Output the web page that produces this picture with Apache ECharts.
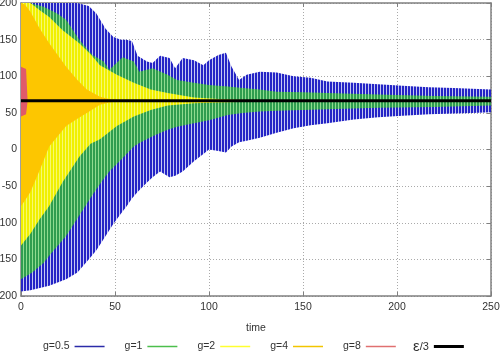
<!DOCTYPE html>
<html>
<head>
<meta charset="UTF-8">
<title>g runs</title>
<script src="https://cdn.jsdelivr.net/npm/echarts@6/dist/echarts.min.js"></script>
<style>
  html, body { margin: 0; padding: 0; background: #fff; }
  #main { width: 501px; height: 359px; }
</style>
</head>
<body>
<div id="main"></div>
<script>
// envelopes: time, upper bound, lower bound of each run
var tG05  = [0, 5, 15, 24, 30, 36, 40, 45, 49, 53, 56, 59, 62, 67, 70, 74, 79, 82, 86, 92, 97, 100, 105, 109, 112, 116, 120, 127, 136, 145, 154, 163, 177, 190, 203, 217, 230, 240, 250];
var hiG05 = [200, 200, 200, 200, 200, 196, 186, 165, 154, 150, 150, 148, 128, 120, 118, 128, 125, 111, 125, 122, 115, 122, 129, 132, 113, 95, 102, 106, 105, 100, 98, 93, 91, 89, 87, 85, 84, 83, 82];
var loG05 = [-194, -192, -186, -177, -168, -150, -138, -118, -102, -88, -78, -67, -58, -45, -38, -30, -38, -36, -30, -16, -6, 0, -2, -4, 4, 10, 12, 16, 23, 29, 33, 36, 41, 44, 46, 48, 49, 50, 51];

var tG1  = [0, 6, 12, 15, 19, 24, 31, 38, 44, 47, 54, 60, 63, 70, 78, 83, 92, 100, 110, 118, 127, 136, 150, 163, 190, 220, 250];
var hiG1 = [200, 199, 195, 191, 186, 177, 150, 129, 120, 109, 126, 120, 106, 111, 102, 95, 91, 88, 86, 84, 82, 79, 78, 77, 75, 73, 72];
var loG1 = [-177, -168, -155, -145, -133, -118, -90, -62, -40, -30, -12, 4, 9, 18, 27, 31, 36, 40, 47, 50, 52, 53, 54, 55, 57, 58, 60];

var tG2  = [0, 5, 10, 15, 22, 31, 37, 42, 51, 60, 69, 78, 92, 105, 115, 120];
var hiG2 = [200, 200, 190, 181, 163, 145, 130, 115, 102, 91, 82, 77, 71, 69, 68, 67.5];
var loG2 = [-131, -115, -95, -77, -45, -10, 8, 14, 32, 45, 54, 60, 63, 64, 65, 66];

var tG4  = [0, 2, 5, 10, 15, 24, 30, 35, 42, 47, 52];
var hiG4 = [200, 198, 188, 165, 145, 113, 95, 82, 72, 69, 67.5];
var loG4 = [-77, -70, -58, -28, 4, 32, 42, 50, 61, 64, 66];

var tG8  = [0, 2.7, 3.5];
var hiG8 = [113, 110, 67];
var loG8 = [45, 48, 66];

var epsT = [0, 250];
var epsV = [66.7, 66.7];

var myChart = echarts.init(document.getElementById('main'));

// thin vertical stripes, the look of the fast oscillation
function stripes(c1, c2) {
    var cv = document.createElement('canvas');
    cv.width = 3;
    cv.height = 1;
    var ctx = cv.getContext('2d');
    ctx.fillStyle = c1;
    ctx.fillRect(0, 0, 2, 1);
    ctx.fillStyle = c2;
    ctx.fillRect(2, 0, 1, 1);
    return { image: cv, repeat: 'repeat' };
}

function band(name, t, hi, lo, color, fill, z) {
    return {
        name: name,
        type: 'custom',
        coordinateSystem: 'cartesian2d',
        silent: true,
        clip: true,
        z: z,
        itemStyle: { color: color },
        data: [[t[0], hi[0]]],
        renderItem: function (params, api) {
            var pts = [];
            for (var i = 0; i < t.length; i++) pts.push(api.coord([t[i], hi[i]]));
            for (var j = t.length - 1; j >= 0; j--) pts.push(api.coord([t[j], lo[j]]));
            return { type: 'polygon', shape: { points: pts }, style: { fill: fill } };
        }
    };
}

var txt = { color: '#333', fontSize: 10.5, fontFamily: 'Liberation Sans' };
var grey = '#808080';
var dots = { show: true, lineStyle: { color: '#aaa', type: [1, 2], width: 1 } };

myChart.setOption({
    animation: false,
    textStyle: { fontFamily: 'Liberation Sans' },
    grid: { left: 21, right: 10, top: 3, bottom: 63, containLabel: false, outerBoundsMode: 'none' },
    legend: [{
        left: 43,
        top: 341,
        padding: 0,
        align: 'right',
        icon: 'rect',
        itemWidth: 30,
        itemHeight: 1.5,
        itemGap: 20,
        textStyle: txt,
        data: ['g=0.5', 'g=1', 'g=2', 'g=4', 'g=8']
    }, {
        left: 413,
        top: 339,
        padding: 0,
        align: 'right',
        icon: 'rect',
        itemWidth: 30,
        itemHeight: 3,
        textStyle: {
            color: '#333', fontSize: 10.5,
            rich: { e: { fontSize: 15, color: '#333' }, n: { fontSize: 11, color: '#333' } }
        },
        formatter: function () { return '{e|ε}{n|/3}'; },
        data: ['ε/3']
    }],
    xAxis: [{
        type: 'value', min: 0, max: 250, interval: 50,
        name: 'time', nameLocation: 'middle', nameGap: 27, nameTextStyle: txt,
        axisLine: { onZero: false, lineStyle: { color: grey, width: 1.5 } },
        axisTick: { inside: true, length: 4, lineStyle: { color: grey } },
        axisLabel: Object.assign({ margin: 6 }, txt),
        splitLine: dots
    }, {
        type: 'value', min: 0, max: 250, interval: 50, position: 'top',
        axisLine: { show: true, onZero: false, lineStyle: { color: grey, width: 1.5 } },
        axisTick: { inside: true, length: 4, lineStyle: { color: grey } },
        axisLabel: { show: false }, splitLine: { show: false }
    }],
    yAxis: [{
        type: 'value', min: -200, max: 200, interval: 50,
        axisLine: { show: true, onZero: false, lineStyle: { color: grey, width: 1.5 } },
        axisTick: { show: true, inside: true, length: 4, lineStyle: { color: grey } },
        axisLabel: Object.assign({ margin: 4 }, txt),
        splitLine: dots
    }, {
        type: 'value', min: -200, max: 200, interval: 50, position: 'right',
        axisLine: { show: true, onZero: false, lineStyle: { color: grey, width: 1.5 } },
        axisTick: { show: true, inside: true, length: 4, lineStyle: { color: grey } },
        axisLabel: { show: false }, splitLine: { show: false }
    }],
    series: [
        band('g=0.5', tG05, hiG05, loG05, '#2b2ba8', stripes('#2424c6', '#c4c6f2'), 2),
        band('g=1', tG1, hiG1, loG1, '#4cbf4c', stripes('#2f9d4f', '#8fdc8f'), 3),
        band('g=2', tG2, hiG2, loG2, '#ffff30', stripes('#f0f000', '#f8f870'), 4),
        band('g=4', tG4, hiG4, loG4, '#f2c500', '#fdc600', 5),
        band('g=8', tG8, hiG8, loG8, '#e07070', '#e05a6a', 6),
        {
            name: 'ε/3',
            type: 'line',
            z: 10,
            silent: true,
            symbol: 'none',
            itemStyle: { color: '#000' },
            lineStyle: { color: '#000', width: 3 },
            data: epsT.map(function (t, i) { return [t, epsV[i]]; })
        }
    ]
});
</script>
</body>
</html>
